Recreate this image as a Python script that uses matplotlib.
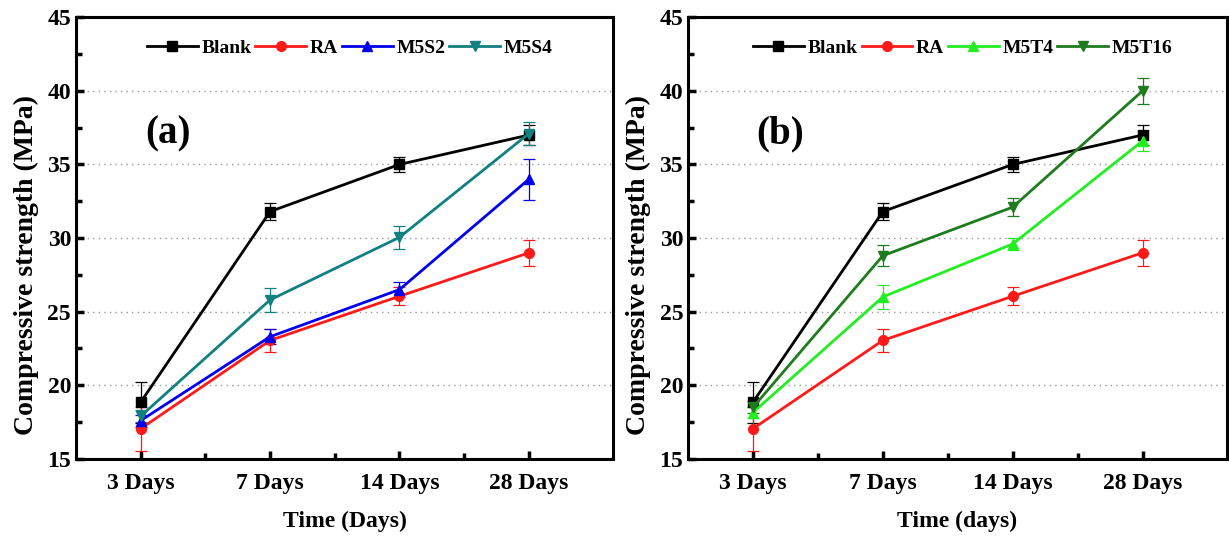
import matplotlib.pyplot as plt
import numpy as np

plt.rcParams['font.family'] = ['Liberation Serif', 'DejaVu Serif']
plt.rcParams['font.weight'] = 'bold'

days = ['3 Days', '7 Days', '14 Days', '28 Days']

blank = [18.85, 31.8, 35.0, 37.0]
blank_err = [1.4, 0.6, 0.5, 0.7]
ra = [17.05, 23.05, 26.05, 29.0]
ra_err = [1.5, 0.8, 0.6, 0.9]

# panel (a)
m5s2 = [17.6, 23.3, 26.5, 34.0]
m5s2_err = [0.4, 0.5, 0.5, 1.4]
m5s4 = [17.9, 25.8, 30.05, 37.1]
m5s4_err = [0.4, 0.8, 0.8, 0.8]

# panel (b)
m5t4 = [18.15, 26.0, 29.6, 36.6]
m5t4_err = [0.4, 0.8, 0.4, 0.7]
m5t16 = [18.5, 28.8, 32.1, 40.0]
m5t16_err = [0.4, 0.7, 0.6, 0.9]


def draw(ax, series, label, xlabel):
    x = np.arange(len(days))
    handles, names = [], []
    for name, y, err, color, marker in series:
        eb = ax.errorbar(x, y, yerr=err, color=color, marker=marker, markersize=7,
                         linewidth=2, elinewidth=0.9, capsize=4, capthick=0.9,
                         ecolor=color)
        handles.append(eb[0])
        names.append(name)
    ax.set_xlim(-0.5, 3.65)
    ax.set_ylim(15, 45)
    ax.set_xticks(x)
    ax.set_xticklabels(days)
    ax.set_xticks(x[:-1] + 0.5, minor=True)
    ax.set_yticks(np.arange(15, 46, 5))
    ax.set_yticks(np.arange(17.5, 45, 5), minor=True)
    for v in range(20, 45, 5):
        ax.axhline(v, color='#999999', linestyle=(0, (1, 3)), linewidth=1, zorder=0)
    ax.tick_params(direction='in', which='major', length=6, width=2.5, labelsize=17)
    ax.tick_params(axis='x', which='major', pad=10)
    ax.tick_params(direction='in', which='minor', length=4, width=2.5)
    for t in ax.get_xticklabels() + ax.get_yticklabels():
        t.set_fontweight('bold')
    for s in ax.spines.values():
        s.set_linewidth(2.2)
    ax.set_xlabel(xlabel, fontsize=17, fontweight='bold', labelpad=12)
    ax.set_ylabel('Compressive strength (MPa)', fontsize=20, fontweight='bold')
    ax.yaxis.set_label_coords(-0.068, 0.44)
    ax.text(0.21, 37.1, label, fontsize=28, fontweight='bold', ha='center', va='center')
    ax.legend(handles, names, loc='upper center', bbox_to_anchor=(0.51, 0.99), ncol=4,
              frameon=False, handlelength=2.6, handletextpad=0.2, columnspacing=0.2,
              prop={'weight': 'bold', 'size': 14})


fig = plt.figure(figsize=(12.29, 5.38), dpi=100)
ax1 = fig.add_axes([0.0618, 0.147, 0.437, 0.821])
ax2 = fig.add_axes([0.5598, 0.147, 0.4386, 0.821])

draw(ax1, [('Blank', blank, blank_err, 'black', 's'),
           ('RA', ra, ra_err, '#ff1a1a', 'o'),
           ('M5S2', m5s2, m5s2_err, '#0000ee', '^'),
           ('M5S4', m5s4, m5s4_err, '#108080', 'v')], '(a)', 'Time (Days)')
draw(ax2, [('Blank', blank, blank_err, 'black', 's'),
           ('RA', ra, ra_err, '#ff1a1a', 'o'),
           ('M5T4', m5t4, m5t4_err, '#22ee22', '^'),
           ('M5T16', m5t16, m5t16_err, '#1e7b1e', 'v')], '(b)', 'Time (days)')

fig.savefig('out.png', dpi=100)
